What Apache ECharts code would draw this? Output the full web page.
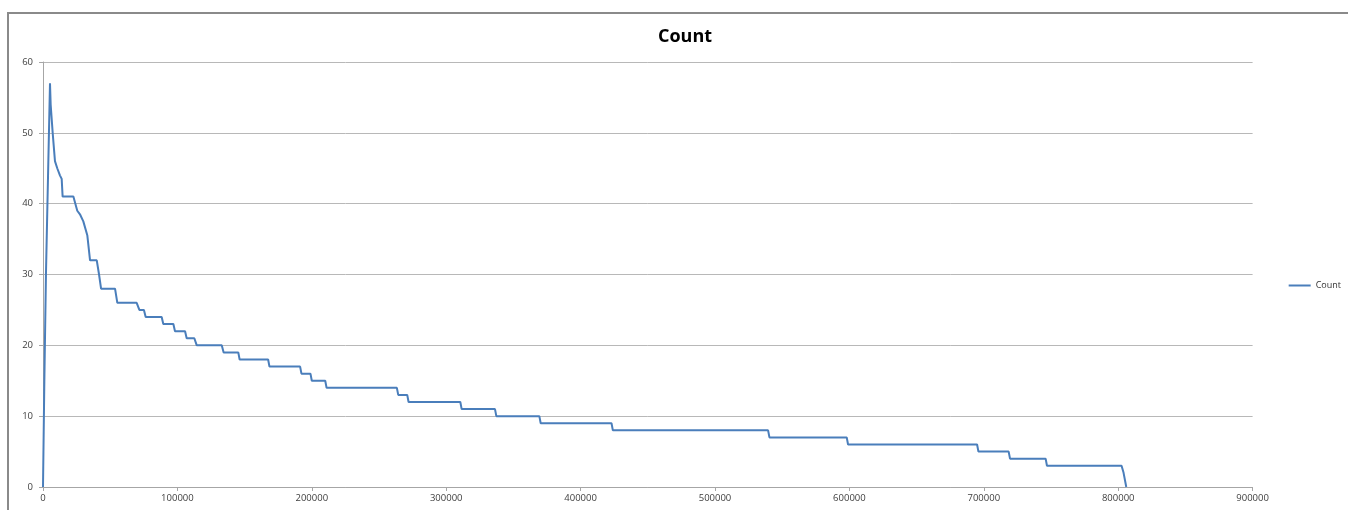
<!DOCTYPE html>
<html>
<head>
<meta charset="utf-8">
<script src="https://cdn.jsdelivr.net/npm/echarts@6/dist/echarts.min.js"></script>
<style>
html,body{margin:0;padding:0;background:#fff;}
#chart{width:1348px;height:510px;}
</style>
</head>
<body>
<div id="chart"></div>
<script>
// x positions (rank) and counts
const xValues = [
  0, 1000, 2200, 5200, 5700, 7200, 8900, 10600, 12600, 13900,
  14600, 22600, 25500, 27500, 30000, 33000, 35000, 40000, 41700, 43200,
  53600, 55300, 69700, 71700, 75100, 76400, 88300, 89500, 97000, 98200,
  105700, 106900, 112600, 114400, 133000, 134400, 145300, 146300, 167500, 168500,
  191300, 192300, 199000, 200000, 210000, 211000, 263300, 264300, 271000, 272000,
  310500, 311500, 336300, 337300, 369300, 370300, 423000, 424000, 539500, 540500,
  598000, 599000, 695000, 696000, 718500, 719500, 746000, 747000, 802500, 804000,
  806000
];
const countValues = [
  0, 15, 30, 57, 54, 50, 46, 45, 44, 43.5,
  41, 41, 39, 38.5, 37.5, 35.5, 32, 32, 30, 28,
  28, 26, 26, 25, 25, 24, 24, 23, 23, 22,
  22, 21, 21, 20, 20, 19, 19, 18, 18, 17,
  17, 16, 16, 15, 15, 14, 14, 13, 13, 12,
  12, 11, 11, 10, 10, 9, 9, 8, 8, 7,
  7, 6, 6, 5, 5, 4, 4, 3, 3, 2,
  0
];
const xTicks = [0, 100000, 200000, 300000, 400000, 500000, 600000, 700000, 800000, 900000];
const yTicks = [0, 10, 20, 30, 40, 50, 60];
const seriesName = 'Count';
const chartTitle = 'Count';

const data = xValues.map((x, i) => [x, countValues[i]]);

const chart = echarts.init(document.getElementById('chart'));
chart.setOption({
  animation: false,
  backgroundColor: '#ffffff',
  title: {
    text: chartTitle,
    left: 653, top: 23,
    textStyle: {fontFamily: 'Open Sans', fontSize: 18, fontWeight: 'bold', color: '#000'}
  },
  legend: {
    data: [seriesName],
    right: 2, top: 276, orient: 'vertical',
    itemWidth: 22, itemHeight: 2, itemGap: 4,
    icon: 'rect',
    textStyle: {fontFamily: 'Open Sans', fontSize: 9, color: '#333'}
  },
  graphic: [
    {type: 'polyline', shape: {points: [[8, 510], [8, 13], [1348, 13]]},
     style: {stroke: '#8a8a8a', lineWidth: 2, fill: null}}
  ],
  grid: {left: 43, right: 95.4, top: 62, bottom: 23, containLabel: false},
  xAxis: {
    type: 'value', min: xTicks[0], max: xTicks[xTicks.length - 1], interval: 100000,
    axisLine: {show: true, lineStyle: {color: '#a6a6a6', width: 1}},
    axisTick: {show: true, length: 4, lineStyle: {color: '#a6a6a6'}},
    axisLabel: {fontFamily: 'Open Sans', fontSize: 9.5, color: '#404040', margin: 6,
      formatter: v => String(v)},
    splitLine: {show: false}
  },
  yAxis: {
    type: 'value', min: yTicks[0], max: yTicks[yTicks.length - 1], interval: 10,
    axisLine: {show: true, lineStyle: {color: '#a6a6a6', width: 1}},
    axisTick: {show: true, length: 4, lineStyle: {color: '#a6a6a6'}},
    axisLabel: {fontFamily: 'Open Sans', fontSize: 9.5, color: '#404040', margin: 10,
      formatter: v => String(v)},
    splitLine: {show: true, lineStyle: {color: '#b8b8b8', width: 1}}
  },
  series: [{
    name: seriesName,
    type: 'line',
    data: data,
    showSymbol: false,
    symbol: 'none',
    lineStyle: {color: '#4a7ebb', width: 2},
    itemStyle: {color: '#4a7ebb'}
  }]
});
</script>
</body>
</html>
